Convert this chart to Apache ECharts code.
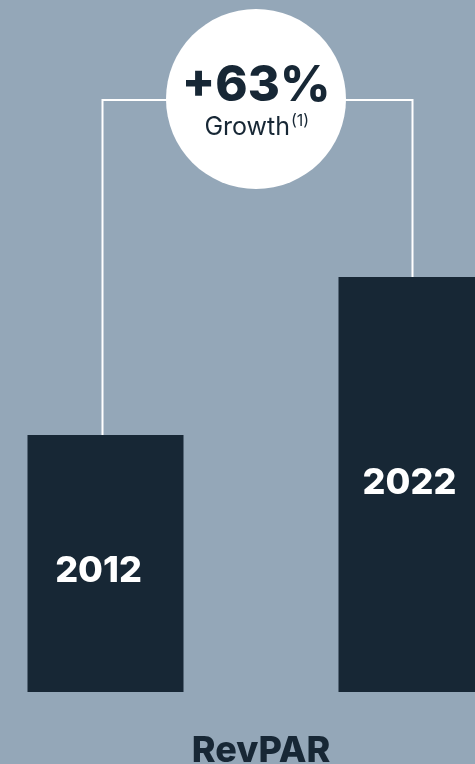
<!DOCTYPE html>
<html><head><meta charset="utf-8">
<script src="https://cdn.jsdelivr.net/npm/echarts@6/dist/echarts.min.js"></script>
<style>html,body{margin:0;padding:0;background:#94a7b8;}#c{width:475px;height:764px;}</style>
</head><body><div id="c"></div>
<script>
const categories = ['2012', '2022'];
const values = [100, 161.5];
const growthLabel = '+63%';
const growthText = 'Growth';
const footnote = '(1)';
const title = 'RevPAR';

const chart = echarts.init(document.getElementById('c'));
const dark = '#172735';
const font = 'Inter';
const labelOffsets = [[-7, 8], [-7, -1]];
chart.setOption({
  backgroundColor: '#94a7b8',
  animation: false,
  grid: { left: -50, width: 622, top: 178, bottom: 72, containLabel: false, outerBoundsMode: 'none' },
  xAxis: { type: 'category', data: categories, show: false },
  yAxis: { type: 'value', min: 0, max: 200, show: false },
  series: [{
    type: 'bar', barWidth: 156,
    data: values.map((v, i) => ({ value: v, label: { offset: labelOffsets[i] } })),
    itemStyle: { color: dark },
    label: {
      show: true, position: 'inside',
      formatter: p => p.name, color: '#fff', fontFamily: font,
      fontWeight: 800, fontSize: 36
    }
  }]
});

const p1 = chart.convertToPixel({ seriesIndex: 0 }, [0, values[0]]);
const p2 = chart.convertToPixel({ seriesIndex: 0 }, [1, values[1]]);
const lineY = 100;
const cx = 256, cy = 99, r = 90;
chart.setOption({
  graphic: [
    { type: 'polyline', z: 5, shape: { points: [[p1[0] - 3, p1[1]], [p1[0] - 3, lineY], [p2[0] - 4, lineY], [p2[0] - 4, p2[1]]] },
      style: { stroke: '#ffffff', lineWidth: 2, fill: null } },
    { type: 'circle', z: 6, shape: { cx: cx, cy: cy, r: r }, style: { fill: '#ffffff' } },
    { type: 'text', z: 7, x: cx, y: 86, style: { text: growthLabel, fill: dark, font: '800 49px Inter', align: 'center', verticalAlign: 'middle' } },
    { type: 'text', z: 7, x: 290, y: 127, style: { text: growthText, fill: dark, font: '400 25px Inter', align: 'right', verticalAlign: 'middle' } },
    { type: 'text', z: 7, x: 291, y: 121, style: { text: footnote, fill: dark, font: '400 16px Inter', align: 'left', verticalAlign: 'middle' } },
    { type: 'text', z: 7, x: 261, y: 751, style: { text: title, fill: dark, font: '800 36px Inter', align: 'center', verticalAlign: 'middle' } }
  ]
});
</script></body></html>
